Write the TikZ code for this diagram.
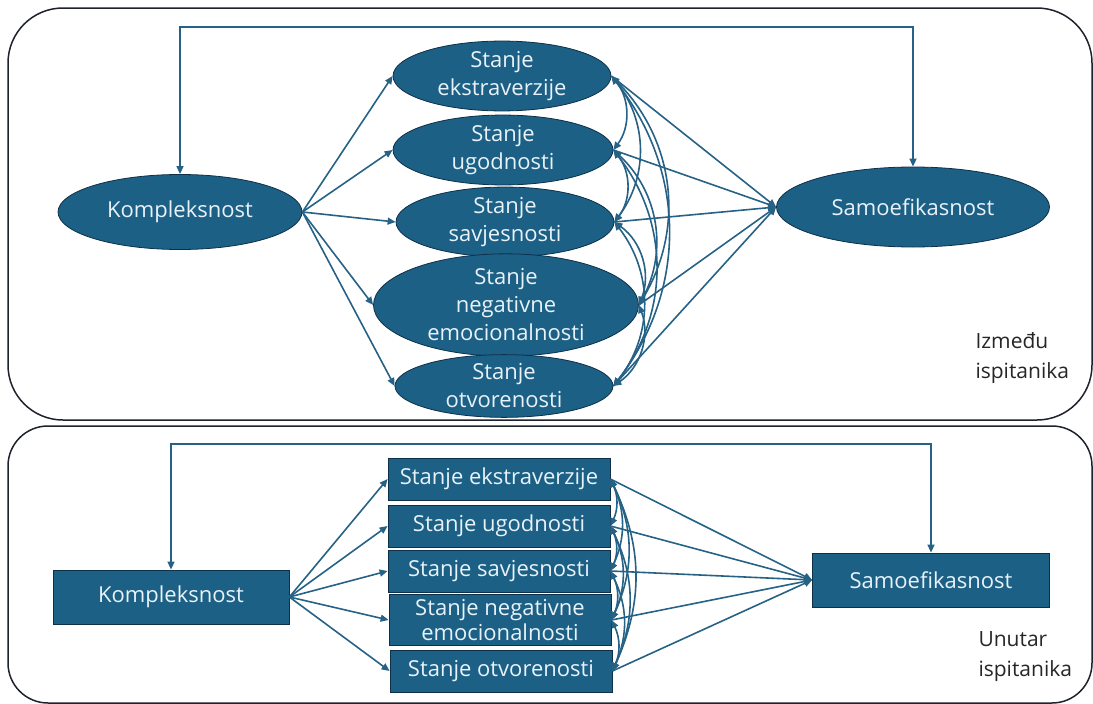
\documentclass[tikz,border=0pt]{standalone}
\usepackage{fontspec}
\setmainfont{Open Sans}
\usetikzlibrary{shapes.geometric}
\usetikzlibrary{arrows.meta}
\usetikzlibrary{positioning}

\definecolor{fillblue}{RGB}{28,96,134}
\definecolor{lineblue}{RGB}{38,98,134}
\definecolor{rimblue}{RGB}{14,48,72}
\definecolor{panelline}{RGB}{30,34,44}
\definecolor{nodetext}{RGB}{232,242,248}

\tikzset{
  panel/.style={draw=panelline,line width=1.5pt},
  conn/.style={draw=lineblue,line width=1.6pt,-{Triangle[length=8pt,width=7pt]}},
  side/.style={font=\fontsize{21}{30}\selectfont,align=left,anchor=west,text=black!85}
}

\begin{document}
\begin{tikzpicture}[x=1pt,y=-1pt]
  \useasboundingbox (0,0) rectangle (1093,704);
  \draw[panel,rounded corners=55pt] (8,8) rectangle (1092,420);
  \draw[panel,rounded corners=40pt] (8,426) rectangle (1092,703);

  % between participants
  \begin{scope}[every node/.style={ellipse,draw=rimblue,thick,fill=fillblue,text=nodetext,
      align=center,inner sep=0pt,font=\fontsize{22}{28}\selectfont}]
    \node[minimum width=244pt,minimum height=75pt] (k) at (180,212) {Kompleksnost};
    \node[minimum width=273pt,minimum height=80pt] (s) at (913,207) {Samoefikasnost};
    \node[minimum width=218pt,minimum height=64pt] (e1) at (502,76) {Stanje\\ekstraverzije};
    \node[minimum width=220pt,minimum height=60pt] (e2) at (503,150) {Stanje\\ugodnosti};
    \node[minimum width=218pt,minimum height=61pt] (e3) at (505,222) {Stanje\\savjesnosti};
    \node[minimum width=265pt,minimum height=92pt] (e4) at (506,305) {Stanje\\negativne\\emocionalnosti};
    \node[minimum width=218pt,minimum height=60pt] (e5) at (504,386) {Stanje\\otvorenosti};
  \end{scope}
  \coordinate (topa) at (0,27);
  \draw[conn,{Triangle[length=8pt,width=7pt]}-{Triangle[length=8pt,width=7pt]}]
    (k.north) -- (k.north |- topa) -| (s.north);
  \begin{scope}[every edge/.style={conn}]
    \foreach \i in {1,...,5}
    {
      \path (k.east) edge (e\i.west);
      \path (e\i.east) edge (s.west);
    }
    \foreach \a/\b in {1/2,1/3,1/4,1/5,2/3,2/4,2/5,3/4,3/5,4/5}
    {
      \path (e\a.east) edge[{Triangle[length=8pt,width=7pt]}-{Triangle[length=8pt,width=7pt]},bend left=38] (e\b.east);
    }
  \end{scope}
  \node[side] (izm) at (972,358) {Između\\ispitanika};

  % within participants
  \begin{scope}[every node/.style={rectangle,draw=rimblue,thick,fill=fillblue,text=nodetext,
      align=center,inner sep=0pt,font=\fontsize{22}{25}\selectfont}]
    \node[minimum width=236pt,minimum height=54pt] (kb) at (171,597) {Kompleksnost};
    \node[minimum width=237pt,minimum height=54pt] (sb) at (931,580) {Samoefikasnost};
    \node[minimum width=222pt,minimum height=42pt] (r1) at (499,479) {Stanje ekstraverzije};
    \node[minimum width=222pt,minimum height=42pt] (r2) at (499,526) {Stanje ugodnosti};
    \node[minimum width=222pt,minimum height=42pt] (r3) at (499,571) {Stanje savjesnosti};
    \node[minimum width=222pt,minimum height=51pt] (r4) at (500,620) {Stanje negativne\\emocionalnosti};
    \node[minimum width=222pt,minimum height=42pt] (r5) at (501,671) {Stanje otvorenosti};
  \end{scope}
  \coordinate (topb) at (0,444);
  \draw[conn,{Triangle[length=8pt,width=7pt]}-{Triangle[length=8pt,width=7pt]}]
    (kb.north) -- (kb.north |- topb) -| (sb.north);
  \begin{scope}[every edge/.style={conn}]
    \foreach \i in {1,...,5}
    {
      \path (kb.east) edge (r\i.west);
      \path (r\i.east) edge (sb.west);
    }
    \foreach \a/\b in {1/2,1/3,1/4,1/5,2/3,2/4,2/5,3/4,3/5,4/5}
    {
      \path (r\a.east) edge[{Triangle[length=8pt,width=7pt]}-{Triangle[length=8pt,width=7pt]},bend left=25] (r\b.east);
    }
  \end{scope}
  \node[side] (unu) at (975,657) {Unutar\\ispitanika};
\end{tikzpicture}
\end{document}
